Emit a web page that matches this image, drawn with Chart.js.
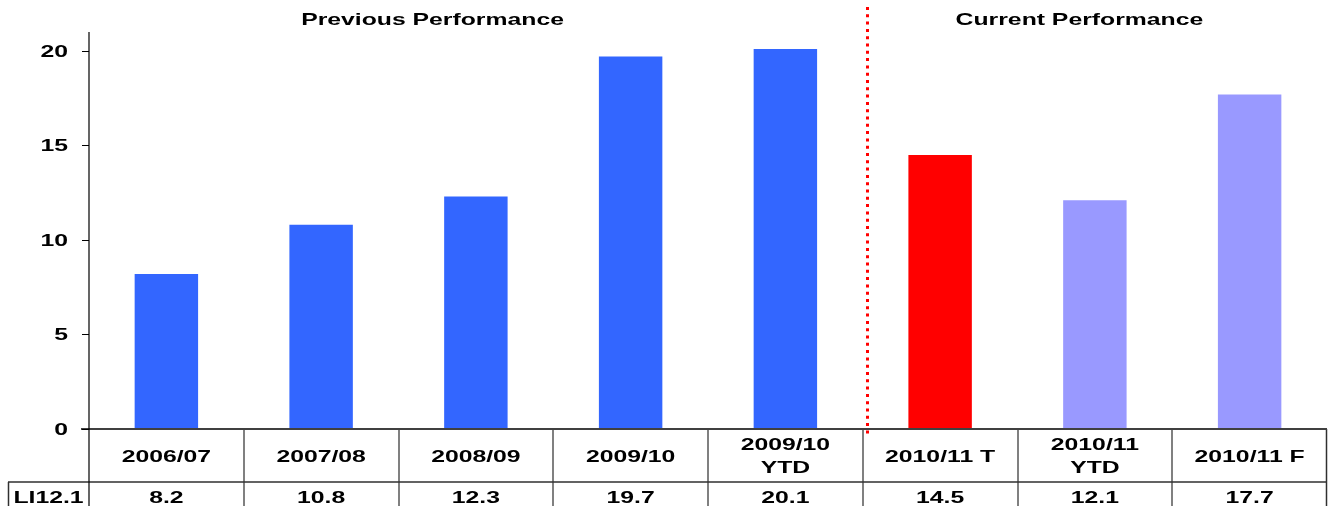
<!DOCTYPE html>
<html>
<head>
<meta charset="utf-8">
<title>LI12.1 performance</title>
<script src="https://cdn.jsdelivr.net/npm/chart.js@4.4.1/dist/chart.umd.min.js"></script>
<style>
  html, body { margin: 0; padding: 0; background: #ffffff; }
  #wrap { width: 1331px; height: 506px; position: relative; }
</style>
</head>
<body>
<div id="wrap"><canvas id="chart"></canvas></div>
<script>
// Periods (each label may span two lines in the table header)
const periods = [
  ['2006/07'],
  ['2007/08'],
  ['2008/09'],
  ['2009/10'],
  ['2009/10', 'YTD'],
  ['2010/11 T'],
  ['2010/11', 'YTD'],
  ['2010/11 F']
];
// LI12.1 values per period
const li121 = [8.2, 10.8, 12.3, 19.7, 20.1, 14.5, 12.1, 17.7];
// Bar colours: history, target, year-to-date / forecast
const barColors = ['#3366FF', '#3366FF', '#3366FF', '#3366FF', '#3366FF', '#FF0000', '#9999FF', '#9999FF'];
const rowLabel = 'LI12.1';
const sectionTitles = ['Previous Performance', 'Current Performance'];
const yTicks = [0, 5, 10, 15, 20];

const FONT = 'bold 16.5px "Liberation Sans", Arial, sans-serif';
const STRETCH = 1.5;

function stretchedText(ctx, text, x, y, align) {
  ctx.save();
  ctx.translate(x, y);
  ctx.scale(STRETCH, 1);
  ctx.textAlign = align;
  ctx.textBaseline = 'alphabetic';
  ctx.fillText(text, 0, 0);
  ctx.restore();
}

const tablePlugin = {
  id: 'tablePlugin',
  afterDraw(chart) {
    const ctx = chart.ctx;
    const xs = chart.scales.x;
    const ys = chart.scales.y;
    const area = chart.chartArea;
    const n = periods.length;
    const step = (area.right - area.left) / n;
    const bottom = chart.height;
    const axisY = ys.getPixelForValue(0);
    const rowSplit = axisY + 53;

    ctx.save();
    ctx.font = FONT;
    ctx.fillStyle = '#000000';

    // table grid: column separators
    ctx.strokeStyle = '#808080';
    ctx.lineWidth = 2;
    for (let i = 1; i < n; i++) {
      const bx = Math.round(xs.getPixelForValue(i) - step / 2);
      ctx.beginPath();
      ctx.moveTo(bx, axisY);
      ctx.lineTo(bx, bottom);
      ctx.stroke();
    }
    // row separator and outer borders
    ctx.strokeStyle = '#303030';
    ctx.lineWidth = 1.5;
    ctx.beginPath();
    ctx.moveTo(8, rowSplit);
    ctx.lineTo(area.right, rowSplit);
    ctx.moveTo(8.5, rowSplit);
    ctx.lineTo(8.5, bottom);
    ctx.moveTo(area.right - 0.5, axisY);
    ctx.lineTo(area.right - 0.5, bottom);
    ctx.stroke();

    // x axis line
    ctx.strokeStyle = '#404040';
    ctx.lineWidth = 2;
    ctx.beginPath();
    ctx.moveTo(area.left - 8, axisY);
    ctx.lineTo(area.right, axisY);
    ctx.stroke();

    // y axis line and tick marks
    ctx.strokeStyle = '#000000';
    ctx.lineWidth = 1.2;
    ctx.beginPath();
    ctx.moveTo(area.left, area.top);
    ctx.lineTo(area.left, bottom);
    ys.ticks.forEach(t => {
      const ty = Math.round(ys.getPixelForValue(t.value)) + 0.5;
      ctx.moveTo(area.left - 7, ty);
      ctx.lineTo(area.left, ty);
    });
    ctx.stroke();

    // y tick labels
    ys.ticks.forEach(t => {
      const ty = ys.getPixelForValue(t.value);
      stretchedText(ctx, String(t.value), 68, ty + 6, 'right');
    });

    // period labels (header row)
    periods.forEach((lines, i) => {
      const cx = xs.getPixelForValue(i);
      if (lines.length === 1) {
        stretchedText(ctx, lines[0], cx, axisY + 33, 'center');
      } else {
        stretchedText(ctx, lines[0], cx, axisY + 21, 'center');
        stretchedText(ctx, lines[1], cx, axisY + 44, 'center');
      }
    });

    // value row
    stretchedText(ctx, rowLabel, (8 + area.left) / 2, rowSplit + 21, 'center');
    li121.forEach((v, i) => {
      stretchedText(ctx, v.toFixed(1), xs.getPixelForValue(i), rowSplit + 21, 'center');
    });

    // section divider between history and current year
    const divX = Math.round(xs.getPixelForValue(4) + step / 2) + 4.5;
    ctx.strokeStyle = '#FF0000';
    ctx.lineWidth = 3;
    ctx.setLineDash([3, 4.3]);
    ctx.beginPath();
    ctx.moveTo(divX, 7);
    ctx.lineTo(divX, axisY + 5);
    ctx.stroke();
    ctx.setLineDash([]);

    // section titles
    stretchedText(ctx, sectionTitles[0], xs.getPixelForValue(1.72), 25, 'center');
    stretchedText(ctx, sectionTitles[1], xs.getPixelForValue(5.9), 25, 'center');

    ctx.restore();
  }
};

new Chart(document.getElementById('chart'), {
  type: 'bar',
  data: {
    labels: periods.map(p => p.join(' ')),
    datasets: [{
      label: rowLabel,
      data: li121,
      backgroundColor: barColors,
      borderWidth: 0,
      barPercentage: 0.41,
      categoryPercentage: 1.0
    }]
  },
  options: {
    responsive: true,
    maintainAspectRatio: false,
    animation: false,
    layout: { padding: { left: 89, right: 4, top: 32, bottom: 77 } },
    plugins: {
      legend: { display: false },
      tooltip: { enabled: false },
      title: { display: false }
    },
    scales: {
      x: {
        display: false,
        grid: { display: false }
      },
      y: {
        display: false,
        min: 0,
        max: 21,
        afterBuildTicks(scale) {
          scale.ticks = yTicks.map(v => ({ value: v }));
        },
        grid: { display: false }
      }
    }
  },
  plugins: [tablePlugin]
});
</script>
</body>
</html>
